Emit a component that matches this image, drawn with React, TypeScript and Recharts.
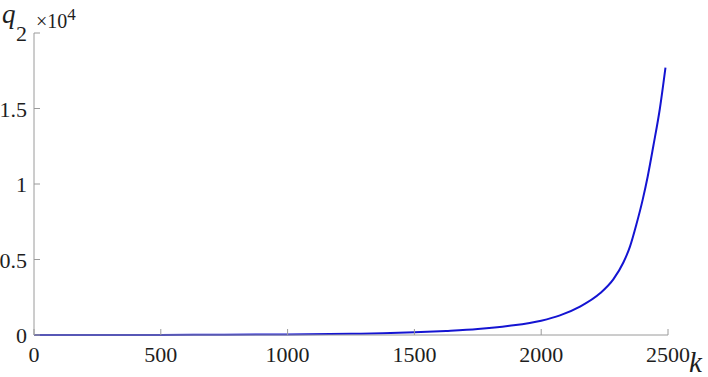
import { LineChart, Line, XAxis, YAxis } from "recharts";

// values (k vs q)
const kValues = [0, 250, 500, 750, 1000, 1250, 1375, 1500, 1625, 1750, 1875, 2000, 2074, 2153, 2232, 2285, 2324, 2350, 2375, 2400, 2420, 2442, 2468, 2490];
const qValues = [0, 3, 8, 18, 38, 75, 110, 175, 265, 390, 610, 950, 1300, 1880, 2760, 3700, 4800, 5850, 7300, 8950, 10500, 12500, 15000, 17700];

const xTicks = [0, 500, 1000, 1500, 2000, 2500];
const yTicks = [0, 5000, 10000, 15000, 20000];
const yTickLabels = ["0", "0.5", "1", "1.5", "2"];

const data = kValues.map((k, i) => ({ k, q: qValues[i] }));

const AXIS = "#9a9a9a";
const TEXT = "#1e1e1e";
const TICK = 6;
const SERIF = "Liberation Serif";

const serif = (size: number, italic = false) => ({
  fontFamily: SERIF,
  fontSize: size,
  fontStyle: italic ? "italic" : "normal",
});

function BottomTick({ x, y, payload }: any) {
  return (
    <g>
      <line x1={x} y1={y} x2={x} y2={y - TICK} stroke={AXIS} />
      <text x={x} y={y + 27} textAnchor="middle" fontFamily={SERIF} fontSize={22} style={serif(22)} fill={TEXT}>
        {payload.value}
      </text>
    </g>
  );
}

function TopTick({ x, y }: any) {
  return <line x1={x} y1={y} x2={x} y2={y + TICK} stroke={AXIS} />;
}

function LeftTick({ x, y, payload }: any) {
  const idx = yTicks.indexOf(payload.value);
  return (
    <g>
      <line x1={x} y1={y} x2={x + TICK} y2={y} stroke={AXIS} />
      <text x={x - 7} y={y + 8} textAnchor="end" fontFamily={SERIF} fontSize={22} style={serif(22)} fill={TEXT}>
        {yTickLabels[idx]}
      </text>
    </g>
  );
}

function RightTick({ x, y }: any) {
  return <line x1={x} y1={y} x2={x - TICK} y2={y} stroke={AXIS} />;
}

export default function App() {
  return (
    <div style={{ position: "absolute", left: 0, top: 0, width: 708, height: 377, background: "#fff", fontFamily: SERIF }}>
      <LineChart width={708} height={377} data={data} margin={{ top: 33, right: 40, left: 0, bottom: 0 }} style={{ fontFamily: SERIF }}>
        <XAxis
          dataKey="k"
          type="number"
          domain={[0, 2500]}
          ticks={xTicks}
          height={42}
          stroke={AXIS}
          tickLine={false}
          tickSize={0}
          tickMargin={0}
          tick={<BottomTick />}
          interval={0}
        />
        <XAxis
          xAxisId="top"
          orientation="top"
          dataKey="k"
          type="number"
          domain={[0, 2500]}
          ticks={xTicks}
          height={0}
          stroke={AXIS}
          tickLine={false}
          tickSize={0}
          tickMargin={0}
          tick={<TopTick />}
          interval={0}
        />
        <YAxis
          type="number"
          domain={[0, 20000]}
          ticks={yTicks}
          width={34}
          stroke={AXIS}
          tickLine={false}
          tickSize={0}
          tickMargin={0}
          tick={<LeftTick />}
          interval={0}
        />
        <YAxis
          yAxisId="right"
          orientation="right"
          type="number"
          domain={[0, 20000]}
          ticks={yTicks}
          width={0}
          stroke={AXIS}
          tickLine={false}
          tickSize={0}
          tickMargin={0}
          tick={<RightTick />}
          interval={0}
        />
        <Line
          dataKey="q"
          type="monotone"
          stroke="#1414d2"
          strokeWidth={2}
          dot={false}
          isAnimationActive={false}
        />
        <text x={2} y={23} fontFamily={SERIF} style={serif(27, true)} fill={TEXT}>q</text>
        <text x={36} y={28} fontFamily={SERIF} style={serif(20)} fill={TEXT}>
          ×10
          <tspan dy={-8} style={serif(17)}>4</tspan>
        </text>
        <text x={689} y={372} fontFamily={SERIF} style={serif(29, true)} fill={TEXT}>k</text>
      </LineChart>
    </div>
  );
}
